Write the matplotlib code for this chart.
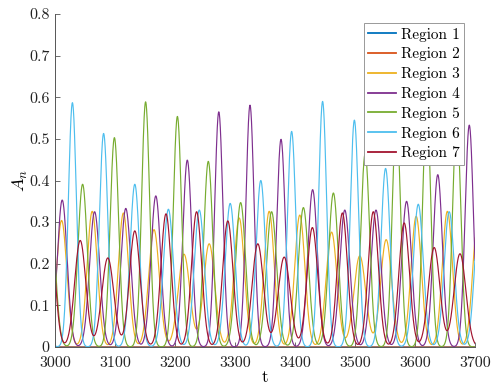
import numpy as np
import matplotlib
matplotlib.use('Agg')
import matplotlib.pyplot as plt

plt.rcParams['font.family'] = ['cmr10', 'DejaVu Serif']
plt.rcParams['mathtext.fontset'] = 'cm'
plt.rcParams['axes.unicode_minus'] = False

# ---- data (peak times and peak heights of A_n) ----
region_names = ['Region 1', 'Region 2', 'Region 3', 'Region 4', 'Region 5', 'Region 6', 'Region 7']
colors = ['#0072BD', '#D95319', '#EDB120', '#7E2F8E', '#77AC30', '#4DBEEE', '#A2142F']

r1_peak_t = []
r1_peak_a = []
r2_peak_t = []
r2_peak_a = []
r3_peak_t = [3011, 3062, 3114, 3165, 3215, 3257, 3307, 3357, 3408, 3461, 3508, 3552, 3602, 3654, 3705]
r3_peak_a = [0.304, 0.326, 0.322, 0.282, 0.223, 0.248, 0.310, 0.326, 0.317, 0.276, 0.219, 0.258, 0.314, 0.326, 0.31]
r4_peak_t = [3012, 3066, 3118, 3168, 3220.5, 3273, 3325, 3376.7, 3429.4, 3483, 3535, 3586, 3638, 3690.5]
r4_peak_a = [0.353, 0.325, 0.333, 0.363, 0.449, 0.565, 0.581, 0.499, 0.378, 0.329, 0.329, 0.350, 0.414, 0.533]
r5_peak_t = [2992, 3046, 3099, 3151, 3204, 3255.5, 3309.4, 3361, 3414, 3464, 3517, 3569, 3619.5, 3669.5]
r5_peak_a = [0.33, 0.391, 0.503, 0.589, 0.554, 0.446, 0.347, 0.325, 0.335, 0.370, 0.465, 0.56, 0.59, 0.55]
r6_peak_t = [2977, 3029, 3081, 3133, 3189, 3240.5, 3292, 3343, 3394.4, 3446, 3499, 3551, 3605.5, 3657, 3708]
r6_peak_a = [0.45, 0.587, 0.513, 0.391, 0.331, 0.329, 0.345, 0.400, 0.518, 0.590, 0.545, 0.429, 0.343, 0.325, 0.33]
r7_peak_t = [2991, 3042, 3088, 3133, 3185, 3236, 3288, 3338, 3382, 3429, 3479, 3530.5, 3582, 3632, 3675]
r7_peak_a = [0.30, 0.256, 0.214, 0.279, 0.320, 0.325, 0.303, 0.248, 0.216, 0.287, 0.322, 0.325, 0.298, 0.239, 0.224]

peak_times = [r1_peak_t, r2_peak_t, r3_peak_t, r4_peak_t, r5_peak_t, r6_peak_t, r7_peak_t]
peak_amps = [r1_peak_a, r2_peak_a, r3_peak_a, r4_peak_a, r5_peak_a, r6_peak_a, r7_peak_a]

x_ticks = [3000, 3100, 3200, 3300, 3400, 3500, 3600, 3700]
y_ticks = [0, 0.1, 0.2, 0.3, 0.4, 0.5, 0.6, 0.7, 0.8]
y_ticklabels = ['0', '0.1', '0.2', '0.3', '0.4', '0.5', '0.6', '0.7', '0.8']

# ---- build smooth pulse curves through the read peaks ----
t = np.linspace(3000, 3700, 4000)

def pulse_curve(tp, ap):
    y = np.zeros_like(t)
    for tc, a in zip(tp, ap):
        s = 8.2 * (0.35 / a) ** 0.4
        y += a * np.exp(-0.5 * ((t - tc) / s) ** 2)
    return y

fig = plt.figure(figsize=(4.92, 3.85), dpi=100)
ax = fig.add_axes([0.1118, 0.0987, 0.8536, 0.8649])

for name, c, tp, ap in zip(region_names, colors, peak_times, peak_amps):
    ax.plot(t, pulse_curve(tp, ap), color=c, lw=0.85, label=name)

ax.set_xlim(3000, 3700)
ax.set_ylim(0, 0.8)
ax.set_xticks(x_ticks)
ax.set_yticks(y_ticks)
ax.set_yticklabels(y_ticklabels)
ax.tick_params(direction='in', length=3.5, width=0.6, color='#555555', labelsize=11.5,
               labelcolor='#222222')
ax.tick_params(axis='x', pad=6.5)
ax.tick_params(axis='y', pad=4)
for sp in ['top', 'right']:
    ax.spines[sp].set_visible(False)
for sp in ['left', 'bottom']:
    ax.spines[sp].set_color('#555555')
    ax.spines[sp].set_linewidth(0.7)

ax.set_xlabel('t', fontsize=12, labelpad=0)
ax.set_ylabel(r'$A_n$', fontsize=13, labelpad=-1)

leg = ax.legend(loc='upper right', bbox_to_anchor=(0.974, 0.972), fontsize=11,
                frameon=True, fancybox=False, framealpha=1, edgecolor='#999999',
                handlelength=1.85, handletextpad=0.3, labelspacing=0.38, borderpad=0.28,
                borderaxespad=0.0)
leg.get_frame().set_linewidth(0.7)
for line in leg.get_lines():
    line.set_linewidth(1.3)

fig.savefig('out.png', dpi=100)
